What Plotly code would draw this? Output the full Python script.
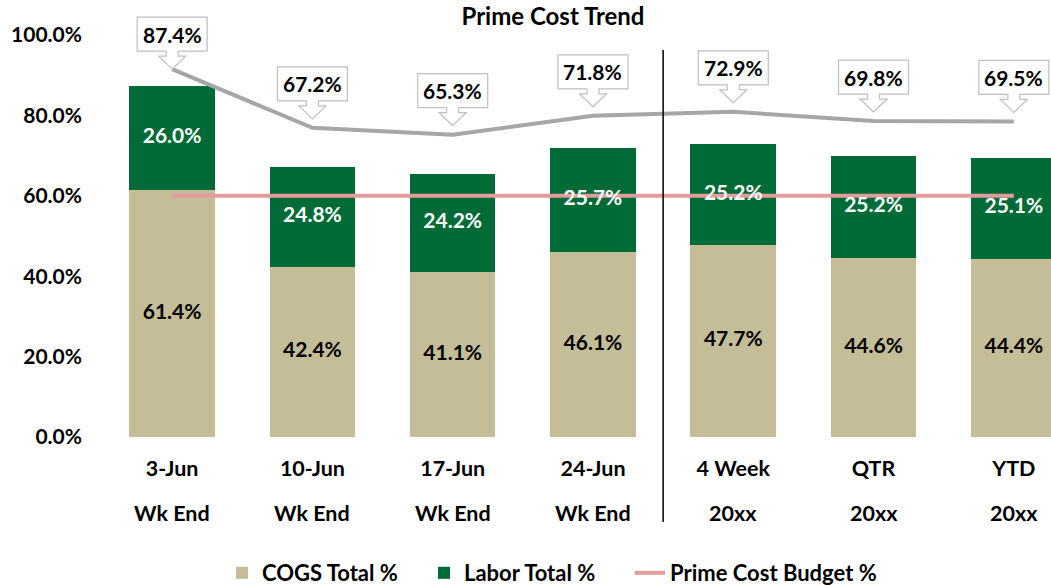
import plotly.graph_objects as go

categories = ["3-Jun", "10-Jun", "17-Jun", "24-Jun", "4 Week", "QTR", "YTD"]
sublabels = ["Wk End", "Wk End", "Wk End", "Wk End", "20xx", "20xx", "20xx"]
cogs = [61.4, 42.4, 41.1, 46.1, 47.7, 44.6, 44.4]
labor = [26.0, 24.8, 24.2, 25.7, 25.2, 25.2, 25.1]
budget = [60.0, 60.0, 60.0, 60.0, 60.0, 60.0, 60.0]
label_line = [91.5, 76.9, 75.2, 79.9, 80.9, 78.6, 78.5]
y_ticks = [0, 20, 40, 60, 80, 100]

totals = [round(c + l, 1) for c, l in zip(cogs, labor)]
idx = list(range(len(categories)))

FONT = "Lato"
TAN = "#C4BD97"
GREEN = "#006B36"
PINK = "#E39C9C"
GREY = "#A6A6A6"

# plot area: top 10px, bottom 437px; 100% sits at 35px
PLOT_TOP, PLOT_BOTTOM = 10, 437
Y_MAX = 100 * (PLOT_BOTTOM - PLOT_TOP) / (PLOT_BOTTOM - 35)
H = PLOT_BOTTOM - PLOT_TOP
W = 1051 - 102


def ypaper(px):
    return (PLOT_BOTTOM - px) / H


def xpaper(px):
    return (px - 102) / W


fig = go.Figure()
fig.add_trace(go.Bar(x=idx, y=cogs, name="COGS Total %", marker_color=TAN,
                     marker_line_width=0, legend="legend"))
fig.add_trace(go.Bar(x=idx, y=labor, name="Labor Total %", marker_color=GREEN,
                     marker_line_width=0, legend="legend2"))
fig.add_trace(go.Scatter(x=idx, y=label_line, mode="lines", showlegend=False,
                         line=dict(color=GREY, width=4), hoverinfo="skip"))
fig.add_trace(go.Scatter(x=idx, y=budget, mode="lines", name="Prime Cost Budget %",
                         line=dict(color=PINK, width=4), legend="legend3"))
fig.add_trace(go.Scatter(x=idx, y=[c / 2 for c in cogs], mode="text",
                         text=[f"{v:.1f}%" for v in cogs], showlegend=False,
                         textfont=dict(family=FONT, size=21, color="black", weight="bold"),
                         hoverinfo="skip"))
fig.add_trace(go.Scatter(x=idx, y=[c + l / 2 for c, l in zip(cogs, labor)], mode="text",
                         text=[f"{v:.1f}%" for v in labor], showlegend=False,
                         textfont=dict(family=FONT, size=21, color="white", weight="bold"),
                         hoverinfo="skip"))

shapes = []
annotations = []
for i in idx:
    g = 0 if i == 0 else 9
    path = (f"M0,{g} L-13.5,{g+13} L-6,{g+13} L-6,{g+18} L-35,{g+18} L-35,{g+52} "
            f"L35,{g+52} L35,{g+18} L6,{g+18} L6,{g+13} L13.5,{g+13} Z")
    shapes.append(dict(type="path", xref="x", yref="y", xsizemode="pixel",
                       ysizemode="pixel", xanchor=i, yanchor=label_line[i], path=path,
                       fillcolor="white", line=dict(color="#BFBFBF", width=1.2)))
    annotations.append(dict(x=i, y=label_line[i], xref="x", yref="y",
                            text=f"{totals[i]:.1f}%", showarrow=False,
                            yshift=g + 35, font=dict(family=FONT, size=21,
                                                     color="black", weight="bold")))
    annotations.append(dict(x=i, y=ypaper(513), xref="x", yref="paper",
                            text=sublabels[i], showarrow=False, yanchor="middle",
                            font=dict(family=FONT, size=21.5, color="black", weight="bold")))

shapes.append(dict(type="line", xref="x", yref="paper", x0=3.5, x1=3.5,
                   y0=ypaper(522), y1=ypaper(50),
                   line=dict(color="black", width=1.5)))

legend_font = dict(family=FONT, size=22, color="black", weight="bold")


def legend_at(px):
    return dict(orientation="h", x=xpaper(px), xanchor="left", y=ypaper(573),
                yanchor="middle", font=legend_font, bgcolor="rgba(0,0,0,0)")


fig.update_layout(
    width=1051, height=585,
    margin=dict(l=102, r=0, t=PLOT_TOP, b=585 - PLOT_BOTTOM, autoexpand=False),
    paper_bgcolor="white", plot_bgcolor="white",
    font=dict(family=FONT, size=20, color="black", weight="bold"),
    barmode="stack", bargap=0.39,
    title=dict(text="Prime Cost Trend", x=553 / 1051, xref="container", xanchor="center",
               y=1 - 17 / 585, yref="container", yanchor="middle",
               font=dict(family=FONT, size=24, color="black", weight="bold")),
    xaxis=dict(range=[-0.5, 6.265], tickmode="array", tickvals=idx, ticktext=categories,
               showgrid=False, zeroline=False, showline=False, ticks="", tickangle=0,
               automargin=False, ticklabelstandoff=16,
               tickfont=dict(family=FONT, size=21.5, color="black", weight="bold")),
    yaxis=dict(range=[0, Y_MAX], tickmode="array", tickvals=y_ticks,
               ticktext=[f"{v:.1f}%" for v in y_ticks],
               showgrid=False, zeroline=False, showline=False, ticks="",
               ticklabelstandoff=19, automargin=False,
               tickfont=dict(family=FONT, size=21, color="black", weight="bold")),
    legend=legend_at(222),
    legend2=legend_at(424),
    legend3=legend_at(630),
    shapes=shapes,
    annotations=annotations,
)

fig.write_html("out.html", config={"displayModeBar": False},
               post_script="document.body.style.margin='0px';")
